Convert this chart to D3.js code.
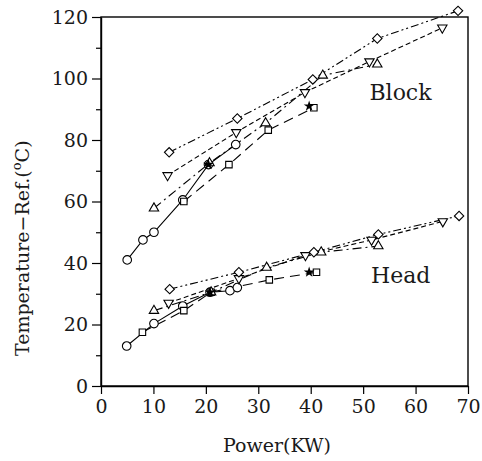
<!DOCTYPE html>
<html><head><meta charset="utf-8">
<script src="https://cdn.jsdelivr.net/npm/d3@7"></script>
<style>body{margin:0;background:#fff}</style>
</head><body>
<svg id="c" width="482" height="461"></svg>
<script>
// Data: [Power (KW), Temperature - Ref (°C)]
const xTicks = [0,10,20,30,40,50,60,70];
const yTicks = [0,20,40,60,80,100,120];
const yMinorTicks = [10,30,50,70,90,110];

const circleBlock = [[5,41],[8,47.5],[10.1,50],[15.6,60.5],[20.5,72],[25.7,78.5]];
const circleHead  = [[4.9,13],[10.1,20.3],[15.6,26],[20.8,30.5],[24.6,31],[26,32]];
const squareBlock = [[15.8,60],[24.4,72],[31.9,83.2],[40.6,90.5]];
const squareHead  = [[7.9,17.5],[15.8,24.5],[21,30.5],[32.1,34.5],[41.1,37]];
const triUpBlock  = [[10.1,57.8],[20.7,72.5],[31.4,85.5],[42.3,101],[52.7,104.6]];
const triUpHead   = [[10.1,24.5],[21,30.5],[31.6,38.5],[42,43.5],[52.9,45.5]];
const triDnBlock  = [[12.7,68.5],[25.8,82.5],[38.9,95.5],[51.2,105.5],[65.1,116.5]];
const triDnHead   = [[12.9,27],[26.3,35],[39,42.5],[51.6,47.5],[65.2,53.5]];
const diaBlock    = [[13,76],[26,87],[40.4,99.7],[52.7,113],[68.1,122]];
const diaHead     = [[13.1,31.5],[26.3,37],[40.6,43.5],[52.9,49.3],[68.3,55.3]];
const starPts     = [[20.5,72],[39.7,91],[20.8,30.5],[39.7,37]];

const series = [
  {data: circleBlock, sym: "circle", dash: null},
  {data: circleHead,  sym: "circle", dash: null},
  {data: squareBlock, sym: "square", dash: "10,6"},
  {data: squareHead,  sym: "square", dash: "10,6"},
  {data: triUpBlock,  sym: "triUp",  dash: "9,4,2,4"},
  {data: triUpHead,   sym: "triUp",  dash: "9,4,2,4"},
  {data: triDnBlock,  sym: "triDn",  dash: "5,3"},
  {data: triDnHead,   sym: "triDn",  dash: "5,3"},
  {data: diaBlock,    sym: "diamond",dash: "8,3,2,3,2,3"},
  {data: diaHead,     sym: "diamond",dash: "8,3,2,3,2,3"}
];

const svg = d3.select("#c");
const L = 101, R = 468, T = 17, B = 386;
const x = d3.scaleLinear().domain([0,70]).range([L,R]);
const y = d3.scaleLinear().domain([0,120]).range([B,T]);
const font = "'DejaVu Serif', serif";
const ink = "#1a1a1a";

// frame
svg.append("rect").attr("x",L).attr("y",T).attr("width",R-L).attr("height",B-T)
  .attr("fill","none").attr("stroke","#000").attr("stroke-width",1.4);

// axes
const xa = svg.append("g").attr("transform",`translate(0,${B})`)
  .call(d3.axisBottom(x).tickValues(xTicks).tickSize(8).tickSizeOuter(0).tickPadding(6));
const ya = svg.append("g").attr("transform",`translate(${L},0)`)
  .call(d3.axisLeft(y).tickValues(yTicks).tickSize(9).tickSizeOuter(0).tickPadding(4));
svg.append("g").attr("transform",`translate(${L},0)`)
  .call(d3.axisLeft(y).tickValues(yMinorTicks).tickSize(5).tickFormat("").tickSizeOuter(0))
  .select(".domain").remove();
svg.selectAll(".domain").attr("stroke-width",1.4);
svg.selectAll(".tick line").attr("stroke-width",1.2);
[xa, ya].forEach(g => g.selectAll("text").attr("font-family",font).attr("font-size",19)
  .attr("font-weight",300).attr("fill",ink));

// axis titles
svg.append("text").attr("x",277).attr("y",452).attr("text-anchor","middle")
  .attr("font-family",font).attr("font-size",19).attr("fill",ink).text("Power(KW)");
const yl = svg.append("text").attr("transform",`translate(29,356) rotate(-90)`)
  .attr("text-anchor","start").attr("font-family",font).attr("font-size",19).attr("fill",ink);
yl.append("tspan").text("Temperature\u2212Ref.(");
yl.append("tspan").attr("dy",-8).attr("font-size",13).text("o");
yl.append("tspan").attr("dy",8).text("C)");

// labels
svg.append("text").attr("x",x(51.2)).attr("y",y(93)).attr("font-family",font)
  .attr("font-size",22).attr("fill",ink).text("Block");
svg.append("text").attr("x",x(51.5)).attr("y",y(33.5)).attr("font-family",font)
  .attr("font-size",22).attr("fill",ink).text("Head");

// lines
const line = d3.line().x(d=>x(d[0])).y(d=>y(d[1]));
series.forEach(s => {
  svg.append("path").datum(s.data).attr("d",line).attr("fill","none")
    .attr("stroke","#000").attr("stroke-width",1.1)
    .attr("stroke-dasharray", s.dash);
});

// markers
const symMap = {
  circle: {t: d3.symbolCircle, size: 58, rot: 0},
  square: {t: d3.symbolSquare, size: 42, rot: 0},
  triUp:  {t: d3.symbolTriangle, size: 38, rot: 0},
  triDn:  {t: d3.symbolTriangle, size: 38, rot: 180},
  diamond:{t: d3.symbolSquare, size: 44, rot: 45}
};
series.forEach(s => {
  const m = symMap[s.sym];
  svg.append("g").selectAll("path").data(s.data).join("path")
    .attr("d", d3.symbol().type(m.t).size(m.size))
    .attr("transform", d=>`translate(${x(d[0])},${y(d[1])}) rotate(${m.rot})`)
    .attr("fill","#fff").attr("stroke","#000").attr("stroke-width",1.1);
});
svg.append("g").selectAll("path").data(starPts).join("path")
  .attr("d", d3.symbol().type(d3.symbolStar).size(36))
  .attr("transform", d=>`translate(${x(d[0])},${y(d[1])})`)
  .attr("fill","#000");
</script>
</body></html>
